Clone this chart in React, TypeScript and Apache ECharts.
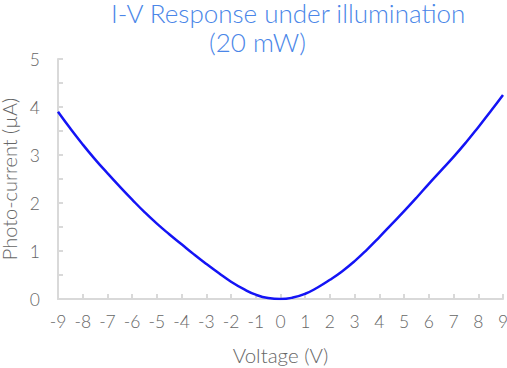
import React, { useEffect, useRef } from "react";
import * as echarts from "echarts";

const voltages = [-9, -8.5, -8, -7.5, -7, -6.5, -6, -5.5, -5, -4.5, -4, -3.5, -3, -2.5, -2, -1.5, -1, -0.5, 0, 0.5, 1, 1.5, 2, 2.5, 3, 3.5, 4, 4.5, 5, 5.5, 6, 6.5, 7, 7.5, 8, 8.5, 9];
const currents = [3.9, 3.55, 3.22, 2.91, 2.62, 2.34, 2.07, 1.81, 1.57, 1.35, 1.14, 0.93, 0.73, 0.54, 0.36, 0.21, 0.09, 0.02, 0.0, 0.03, 0.11, 0.24, 0.4, 0.58, 0.79, 1.03, 1.29, 1.56, 1.83, 2.11, 2.4, 2.68, 2.96, 3.26, 3.58, 3.91, 4.25];
const titleLines = ["I-V Response under illumination", "(20 mW)"];

export default function App() {
  const ref = useRef<HTMLDivElement>(null);
  useEffect(() => {
    if (!ref.current) return;
    const chart = echarts.init(ref.current, null, { renderer: "svg" });
    const font = "Lato, 'Open Sans', sans-serif";
    const gray = "#666666";
    const axisGray = "#d9d9d9";
    chart.setOption({
      animation: false,
      textStyle: { fontFamily: font },
      graphic: [
        { type: "text", x: 111, y: 13, style: { text: titleLines[0], fontSize: 26, lineHeight: 22, fontWeight: 300, fontFamily: font, fill: "#4a86e8", verticalAlign: "middle" } },
        { type: "text", x: 209, y: 42, style: { text: titleLines[1], fontSize: 26, lineHeight: 22, fontWeight: 300, fontFamily: font, fill: "#4a86e8", verticalAlign: "middle" } },
      ],
      grid: { left: 58, right: 4, top: 59, bottom: 69, containLabel: false, outerBoundsMode: "none" },
      xAxis: {
        type: "value",
        min: -9,
        max: 9,
        interval: 1,
        name: "Voltage (V)",
        nameLocation: "middle",
        nameGap: 45,
        nameTextStyle: { fontSize: 20.5, fontWeight: 300, color: gray, fontFamily: font },
        axisLine: { show: true, onZero: false, lineStyle: { color: axisGray, width: 2 } },
        axisTick: { show: true, inside: true, length: 5, lineStyle: { color: axisGray, width: 2 } },
        axisLabel: { fontSize: 17.5, fontWeight: 300, color: gray, margin: 13, fontFamily: font },
        splitLine: { show: false },
      },
      yAxis: {
        type: "value",
        min: 0,
        max: 5,
        interval: 1,
        name: "Photo-current (µA)",
        nameLocation: "middle",
        nameGap: 36,
        nameTextStyle: { fontSize: 20, lineHeight: 20, fontWeight: 300, color: gray, fontFamily: font },
        axisLine: { show: true, onZero: false, lineStyle: { color: axisGray, width: 2 } },
        axisTick: { show: true, inside: true, length: 5, lineStyle: { color: axisGray, width: 2 } },
        minorTick: { show: true, splitNumber: 2, length: 5, lineStyle: { color: axisGray, width: 2 } },
        axisLabel: { fontSize: 17.5, fontWeight: 300, color: gray, margin: 18, fontFamily: font },
        splitLine: { show: false },
      },
      series: [
        {
          type: "line",
          data: voltages.map((v, i) => [v, currents[i]]),
          showSymbol: false,
          smooth: 0.5,
          lineStyle: { color: "#1414f5", width: 2.5 },
        },
      ],
    });
    return () => chart.dispose();
  }, []);
  return <div ref={ref} style={{ width: 507, height: 368, position: "absolute", left: 0, top: 0 }} />;
}
